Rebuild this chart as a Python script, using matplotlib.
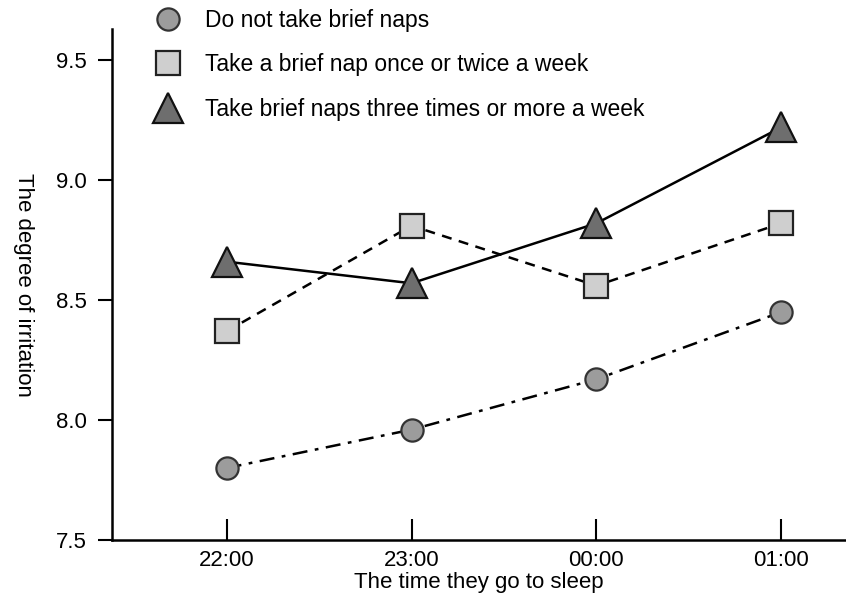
import numpy as np
import matplotlib.pyplot as plt

plt.rcParams['font.family'] = ['Liberation Sans', 'DejaVu Sans']

times = ['22:00', '23:00', '00:00', '01:00']
no_naps = [7.80, 7.96, 8.17, 8.45]
naps_1_2 = [8.37, 8.81, 8.56, 8.82]
naps_3_plus = [8.66, 8.57, 8.82, 9.22]

labels = ['Do not take brief naps',
          'Take a brief nap once or twice a week',
          'Take brief naps three times or more a week']

fig = plt.figure(figsize=(8.46, 5.97), dpi=100)
ax = fig.add_axes([0.1324, 0.0955, 0.8676, 0.856])

x = np.arange(len(times))

circ = dict(marker='o', ms=16, mfc='#9c9c9c', mec='#333333', mew=1.6)
sq = dict(marker='s', ms=17, mfc='#cfcfcf', mec='#222222', mew=1.6)
tri = dict(marker='^', ms=22, mfc='#6e6e6e', mec='#111111', mew=1.6)

# circles, dash-dot
ax.plot(x, no_naps, color='black', lw=1.8, dashes=(6, 3, 1.5, 3), **circ)
# squares, dashed
ax.plot(x, naps_1_2, color='black', lw=1.8, dashes=(4, 3), **sq)
# triangles, solid
ax.plot(x, naps_3_plus, color='black', lw=1.8, ls='-', **tri)

ax.set_xlim(-0.62, 3.35)
ax.set_ylim(7.5, 9.63)
ax.set_xticks(x)
ax.set_xticklabels(times)
ax.set_yticks([7.5, 8.0, 8.5, 9.0, 9.5])
ax.set_yticklabels(['7.5', '8.0', '8.5', '9.0', '9.5'])

ax.spines['top'].set_visible(False)
ax.spines['right'].set_visible(False)
ax.spines['left'].set_linewidth(1.8)
ax.spines['bottom'].set_linewidth(1.8)

ax.tick_params(axis='y', direction='out', length=10, width=1.5, labelsize=16, pad=8)
ax.tick_params(axis='x', direction='in', length=15, width=1.5, labelsize=16, pad=7)

ax.set_xlabel('The time they go to sleep', fontsize=16, labelpad=1)
ax.set_ylabel('The degree of irritation', fontsize=16, rotation=270)
ax.yaxis.set_label_coords(-0.135, 0.5)

# legend with markers only
h1 = plt.Line2D([], [], ls='none', **circ)
h2 = plt.Line2D([], [], ls='none', **sq)
h3 = plt.Line2D([], [], ls='none', **tri)
ax.legend([h1, h2, h3], labels, loc='upper left', bbox_to_anchor=(0.017, 1.08),
          frameon=False, fontsize=16.5, handletextpad=0.6, labelspacing=0.95)

fig.savefig('out.png', dpi=100)
